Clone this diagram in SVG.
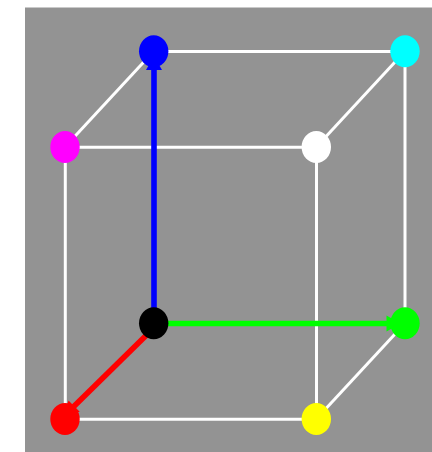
<svg xmlns="http://www.w3.org/2000/svg" width="432" height="452" viewBox="0 0 432 452">
<style>
.e{stroke:#fff;stroke-width:3;fill:none}
.a{stroke-width:5.6;fill:none}
ellipse{stroke:none}
</style>
<defs>
<marker id="hb" markerUnits="userSpaceOnUse" markerWidth="20" markerHeight="20" refX="16" refY="10" orient="auto"><path d="M2 2L16 10L2 18Z" fill="#00f"/></marker>
<marker id="hg" markerUnits="userSpaceOnUse" markerWidth="20" markerHeight="20" refX="16" refY="10" orient="auto"><path d="M2 2L16 10L2 18Z" fill="#0f0"/></marker>
<marker id="hr" markerUnits="userSpaceOnUse" markerWidth="20" markerHeight="20" refX="16" refY="10" orient="auto"><path d="M2 2L16 10L2 18Z" fill="#f00"/></marker>
</defs>
<rect x="25" y="7.5" width="407" height="444.5" fill="#939393"/>
<g id="connectors">
<line class="e" x1="153.7" y1="51.5" x2="405" y2="51.5"/>
<line class="e" x1="65" y1="147.3" x2="316.3" y2="147.3"/>
<line class="e" x1="65" y1="419.3" x2="316.3" y2="419.3"/>
<line class="e" x1="65.3" y1="147" x2="65.3" y2="419"/>
<line class="e" x1="316.5" y1="147" x2="316.5" y2="419"/>
<line class="e" x1="405" y1="51.3" x2="405" y2="323.3"/>
<line class="e" x1="65" y1="147" x2="153.7" y2="51.3"/>
<line class="e" x1="316.3" y1="147" x2="405" y2="51.3"/>
<line class="e" x1="316.3" y1="419" x2="405" y2="323.3"/>
<line class="a" stroke="#00f" x1="154" y1="323.3" x2="154" y2="56" marker-end="url(#hb)"/>
<line class="a" stroke="#0f0" x1="153.7" y1="323.5" x2="400.5" y2="323.5" marker-end="url(#hg)"/>
<line class="a" stroke="#f00" x1="153.7" y1="328" x2="64.1" y2="415.9" marker-end="url(#hr)"/>
</g>
<g id="node-black"><ellipse cx="153.7" cy="323.3" rx="14.7" ry="16" fill="#000"/></g>
<g id="node-red"><ellipse cx="65" cy="419" rx="14.7" ry="16" fill="#f00"/></g>
<g id="node-green"><ellipse cx="405" cy="323.3" rx="14.7" ry="16" fill="#0f0"/></g>
<g id="node-blue"><ellipse cx="153.7" cy="51.3" rx="14.7" ry="16" fill="#00f"/></g>
<g id="node-yellow"><ellipse cx="316.3" cy="419" rx="14.7" ry="16" fill="#ff0"/></g>
<g id="node-magenta"><ellipse cx="65" cy="147" rx="14.7" ry="16" fill="#f0f"/></g>
<g id="node-cyan"><ellipse cx="405" cy="51.3" rx="14.7" ry="16" fill="#0ff"/></g>
<g id="node-white"><ellipse cx="316.3" cy="147" rx="14.7" ry="16" fill="#fff"/></g>
</svg>
